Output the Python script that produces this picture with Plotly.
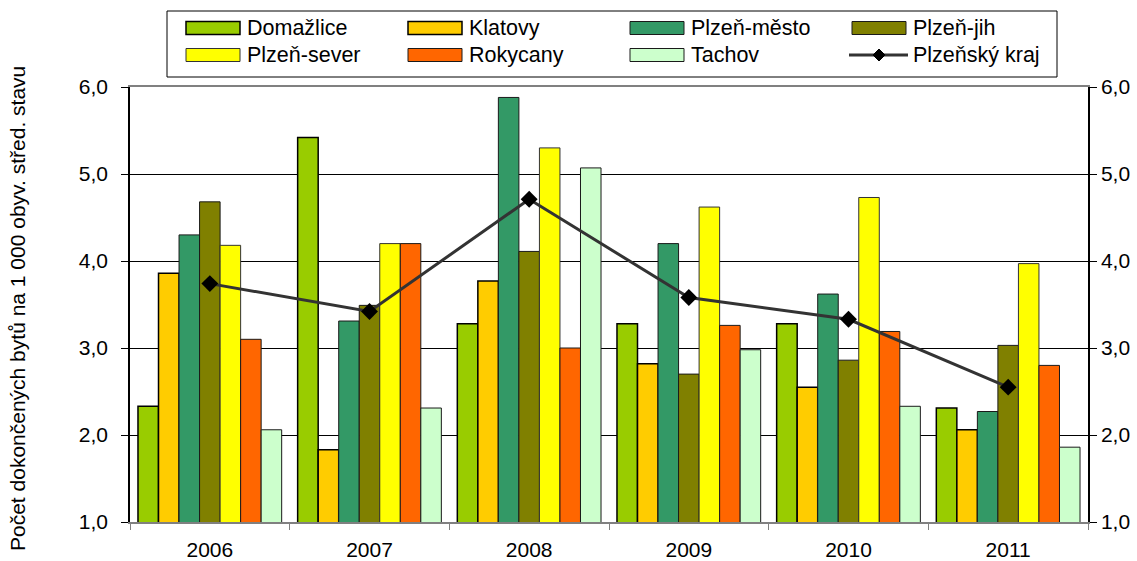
import plotly.graph_objects as go

years = ["2006", "2007", "2008", "2009", "2010", "2011"]
domazlice = [2.33, 5.42, 3.28, 3.28, 3.28, 2.31]
klatovy = [3.86, 1.83, 3.77, 2.82, 2.55, 2.06]
plzen_mesto = [4.30, 3.31, 5.88, 4.20, 3.62, 2.27]
plzen_jih = [4.68, 3.49, 4.11, 2.70, 2.86, 3.03]
plzen_sever = [4.18, 4.20, 5.30, 4.62, 4.73, 3.97]
rokycany = [3.10, 4.20, 3.00, 3.26, 3.19, 2.80]
tachov = [2.06, 2.31, 5.07, 2.98, 2.33, 1.86]
kraj = [3.74, 3.42, 4.71, 3.58, 3.33, 2.55]

series = [
    ("Domažlice", domazlice, "#99CC00", "#000000", 1.5),
    ("Klatovy", klatovy, "#FFCC00", "#000000", 1.5),
    ("Plzeň-město", plzen_mesto, "#339966", "#1a1a1a", 1),
    ("Plzeň-jih", plzen_jih, "#808000", "#1a1a1a", 1),
    ("Plzeň-sever", plzen_sever, "#FFFF00", "#333333", 1),
    ("Rokycany", rokycany, "#FF6600", "#1a1a1a", 1),
    ("Tachov", tachov, "#CCFFCC", "#1a1a1a", 1),
]
line_name = "Plzeňský kraj"

FONT = "Liberation Sans, Arial, sans-serif"
W, H = 1137, 561
L, R, T, B = 130, 49, 87, 39
PW, PH = W - L - R, H - T - B


def px2x(px):
    return (px - L) / PW


def py2y(py):
    return (H - B - py) / PH


fig = go.Figure()
for name, vals, col, lc, lw in series:
    fig.add_trace(go.Bar(
        name=name, x=years, y=vals, showlegend=False,
        marker=dict(color=col, line=dict(color=lc, width=lw)),
    ))

fig.add_trace(go.Scatter(
    name=line_name, x=years, y=kraj, yaxis="y2", showlegend=False,
    mode="lines+markers",
    line=dict(color="#333333", width=3),
    marker=dict(symbol="diamond", size=13, color="#000000"),
))

# custom legend (box, colour swatches and labels)
shapes = [dict(type="rect", xref="paper", yref="paper",
               x0=px2x(167), x1=px2x(1057), y0=py2y(77), y1=py2y(11),
               line=dict(color="#000000", width=1), fillcolor="white", layer="above")]
annotations = []
col_x = [186, 408, 630, 852]
row_y = [28, 55]
entries = [(s[0], s[2], s[3], s[4]) for s in series] + [(line_name, None, None, None)]
for i, (name, col, lc, lw) in enumerate(entries):
    cx = col_x[i % 4]
    cy = row_y[i // 4]
    if col is not None:
        shapes.append(dict(type="rect", xref="paper", yref="paper",
                           x0=px2x(cx), x1=px2x(cx + 54),
                           y0=py2y(cy + 6.5), y1=py2y(cy - 6.5),
                           fillcolor=col, line=dict(color=lc, width=lw), layer="above"))
    else:
        shapes.append(dict(type="line", xref="paper", yref="paper",
                           x0=px2x(cx - 3), x1=px2x(cx + 56),
                           y0=py2y(cy), y1=py2y(cy),
                           line=dict(color="#333333", width=3), layer="above"))
        mx = cx + 27
        d = 6
        path = "M {} {} L {} {} L {} {} L {} {} Z".format(
            px2x(mx), py2y(cy - d), px2x(mx + d), py2y(cy),
            px2x(mx), py2y(cy + d), px2x(mx - d), py2y(cy))
        shapes.append(dict(type="path", xref="paper", yref="paper", path=path,
                           fillcolor="#000000", line=dict(color="#000000", width=1),
                           layer="above"))
    annotations.append(dict(text=name, xref="paper", yref="paper",
                            x=px2x(cx + 59), y=py2y(cy), xanchor="left",
                            yanchor="middle", showarrow=False,
                            font=dict(size=21.5)))

annotations.append(dict(
    text="Počet dokončených bytů na 1 000 obyv. střed. stavu",
    xref="paper", yref="paper", x=px2x(17), y=py2y(309), textangle=-90,
    showarrow=False, font=dict(size=21), xanchor="center", yanchor="middle",
))

fig.update_layout(
    width=W, height=H,
    margin=dict(l=L, r=R, t=T, b=B, autoexpand=False),
    paper_bgcolor="white", plot_bgcolor="white",
    font=dict(family=FONT, size=21, color="#000000"),
    separators=", ",
    barmode="group", bargap=0.1, bargroupgap=0,
    showlegend=False,
    xaxis=dict(
        type="category", showline=True, linecolor="#808080", linewidth=1.5,
        mirror=True, ticks="outside", tickson="boundaries", ticklen=6,
        tickcolor="#808080", showgrid=False, tickfont=dict(size=21),
        automargin=False, ticklabelstandoff=8,
    ),
    yaxis=dict(
        range=[1, 6], dtick=1, tickformat=".1f", showline=True,
        linecolor="#000000", linewidth=1.5, ticks="outside", ticklen=7,
        tickcolor="#000000", showgrid=True, gridcolor="#000000", gridwidth=1,
        zeroline=False, tickfont=dict(size=21), automargin=False,
        ticklabelstandoff=9,
    ),
    yaxis2=dict(
        range=[1, 6], dtick=1, tickformat=".1f", overlaying="y", side="right",
        showline=True, linecolor="#000000", linewidth=1.5, ticks="outside",
        ticklen=7, tickcolor="#000000", showgrid=False, zeroline=False,
        tickfont=dict(size=21), automargin=False,
    ),
    shapes=shapes,
    annotations=annotations,
)

fig.write_html(
    "out.html",
    config={"displayModeBar": False},
    post_script="document.body.style.margin='0';document.body.style.padding='0';",
)
